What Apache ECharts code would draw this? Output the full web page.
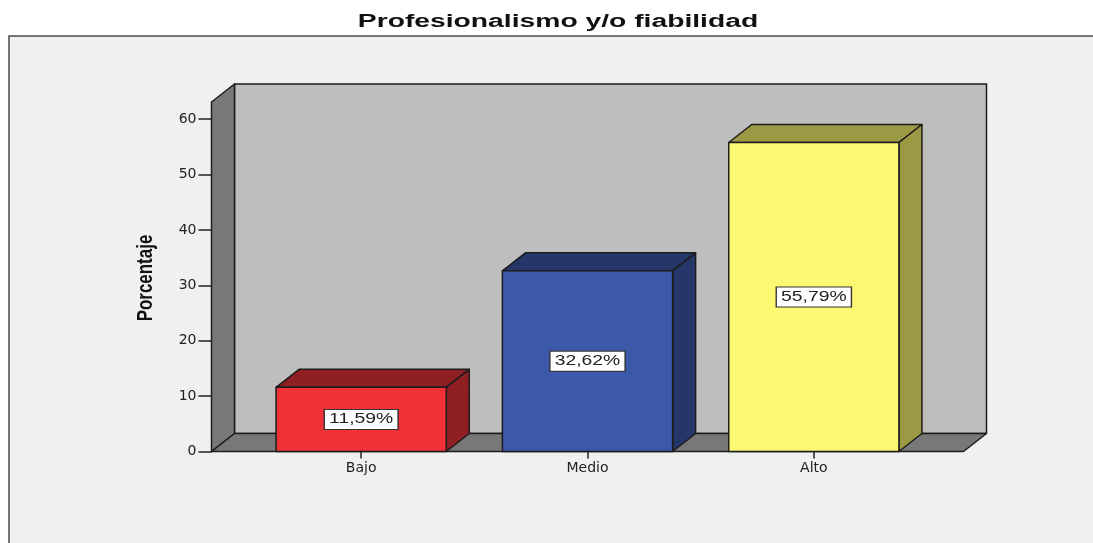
<!DOCTYPE html>
<html>
<head>
<meta charset="utf-8">
<title>Profesionalismo y/o fiabilidad</title>
<script src="https://cdn.jsdelivr.net/npm/echarts@6/dist/echarts.min.js"></script>
<style>
  html, body { margin: 0; padding: 0; background: #fff; }
  #chart { width: 1093px; height: 543px; }
</style>
</head>
<body>
<div id="chart"></div>
<script>
const chartTitle = 'Profesionalismo y/o fiabilidad'
const yAxisName = 'Porcentaje'
const categories = ['Bajo', 'Medio', 'Alto']
const percentages = [11.59, 32.62, 55.79]
const percentLabels = ['11,59%', '32,62%', '55,79%']
const yTicks = [0, 10, 20, 30, 40, 50, 60]

const frontColors = ['#f13138', '#3c58a8', '#fcf872']
const shadeColors = ['#8f1f23', '#253769', '#9c9945']

const depthX = 23 // 3d offset of the box
const depthY = -18
const wallPad = 36.5 // floor sticks out past the category bands
const barRatio = 0.752
const edge = { stroke: '#1c1c1c', lineWidth: 1.5, lineJoin: 'round' }

const poly = (points, fill) => ({
  type: 'polygon',
  shape: { points },
  style: { fill, ...edge }
})

// walls and floor behind the bars
const renderBackdrop = (params) => {
  const grid = params.coordSys
  const left = grid.x - wallPad
  const right = grid.x + grid.width + wallPad
  const top = grid.y
  const bottom = grid.y + grid.height
  return {
    type: 'group',
    children: [
      poly([
        [left + depthX, top + depthY],
        [right + depthX, top + depthY],
        [right + depthX, bottom + depthY],
        [left + depthX, bottom + depthY]
      ], '#bebebe'),
      poly([
        [left, top],
        [left + depthX, top + depthY],
        [left + depthX, bottom + depthY],
        [left, bottom]
      ], '#787878'),
      poly([
        [left, bottom],
        [left + depthX, bottom + depthY],
        [right + depthX, bottom + depthY],
        [right, bottom]
      ], '#787878')
    ]
  }
}

const renderBox = (params, api) => {
  const i = api.value(0)
  const [cx, yTop] = api.coord([i, api.value(1)])
  const yBase = api.coord([i, 0])[1]
  const half = (api.size([1, 0])[0] * barRatio) / 2
  const x0 = cx - half
  const x1 = cx + half
  return {
    type: 'group',
    children: [
      poly([
        [x0, yTop],
        [x0 + depthX, yTop + depthY],
        [x1 + depthX, yTop + depthY],
        [x1, yTop]
      ], shadeColors[i]),
      poly([
        [x1, yTop],
        [x1 + depthX, yTop + depthY],
        [x1 + depthX, yBase + depthY],
        [x1, yBase]
      ], shadeColors[i]),
      poly([
        [x0, yTop],
        [x1, yTop],
        [x1, yBase],
        [x0, yBase]
      ], frontColors[i]),
      {
        type: 'text',
        x: cx,
        y: (yTop + yBase) / 2,
        scaleX: 1.38,
        style: {
          text: percentLabels[i],
          fontFamily: 'Liberation Sans',
          fontSize: 14,
          fill: '#222',
          align: 'center',
          verticalAlign: 'middle',
          backgroundColor: '#fff',
          borderColor: '#333',
          borderWidth: 1,
          padding: [3, 3, 2, 3]
        }
      }
    ]
  }
}

const myChart = echarts.init(document.getElementById('chart'))

myChart.setOption({
  animation: false,
  backgroundColor: '#fff',
  graphic: [
    {
      type: 'rect',
      z: -1,
      shape: { x: 9, y: 36, width: 1200, height: 600 },
      style: { fill: '#f0f0f0', stroke: '#4a4a4a', lineWidth: 1.5 }
    },
    // the source is stretched sideways, so the title is scaled to match
    {
      type: 'text',
      x: 558,
      y: 22,
      scaleX: 1.57,
      style: {
        text: chartTitle,
        fontFamily: 'Liberation Sans',
        fontWeight: 'bold',
        fontSize: 18,
        fill: '#111',
        align: 'center',
        verticalAlign: 'middle'
      }
    },
    {
      type: 'text',
      x: 146,
      y: 278,
      rotation: Math.PI / 2,
      scaleX: 0.77,
      style: {
        text: yAxisName,
        fontFamily: 'Liberation Sans',
        fontWeight: 'bold',
        fontSize: 22,
        fill: '#111',
        align: 'center',
        verticalAlign: 'middle'
      }
    }
  ],
  grid: { left: 248, width: 679, top: 102, bottom: 91.5 },
  xAxis: {
    type: 'category',
    data: categories,
    z: 3,
    axisLine: { show: false },
    axisTick: { show: true, alignWithLabel: true, length: 7, lineStyle: { color: '#222', width: 1.5 } },
    axisLabel: {
      margin: 10,
      fontFamily: 'DejaVu Sans',
      fontSize: 14,
      color: '#222'
    }
  },
  yAxis: {
    type: 'value',
    min: 0,
    max: 63.1,
    offset: wallPad,
    splitLine: { show: false },
    axisLine: { show: true, lineStyle: { color: '#1c1c1c', width: 1.5 } },
    axisTick: {
      show: true,
      length: 13,
      customValues: yTicks,
      lineStyle: { color: '#222', width: 1.5 }
    },
    axisLabel: {
      margin: 15,
      padding: [4, 0, 0, 0],
      customValues: yTicks,
      fontFamily: 'DejaVu Sans',
      fontSize: 14,
      color: '#222'
    }
  },
  series: [
    {
      type: 'custom',
      z: 1,
      silent: true,
      renderItem: renderBackdrop,
      data: [[0, 0]]
    },
    {
      type: 'custom',
      z: 2,
      renderItem: renderBox,
      encode: { x: 0, y: 1 },
      data: percentages.map((v, i) => [i, v])
    }
  ]
})

window.addEventListener('resize', () => {
  myChart.resize()
})
</script>
</body>
</html>
